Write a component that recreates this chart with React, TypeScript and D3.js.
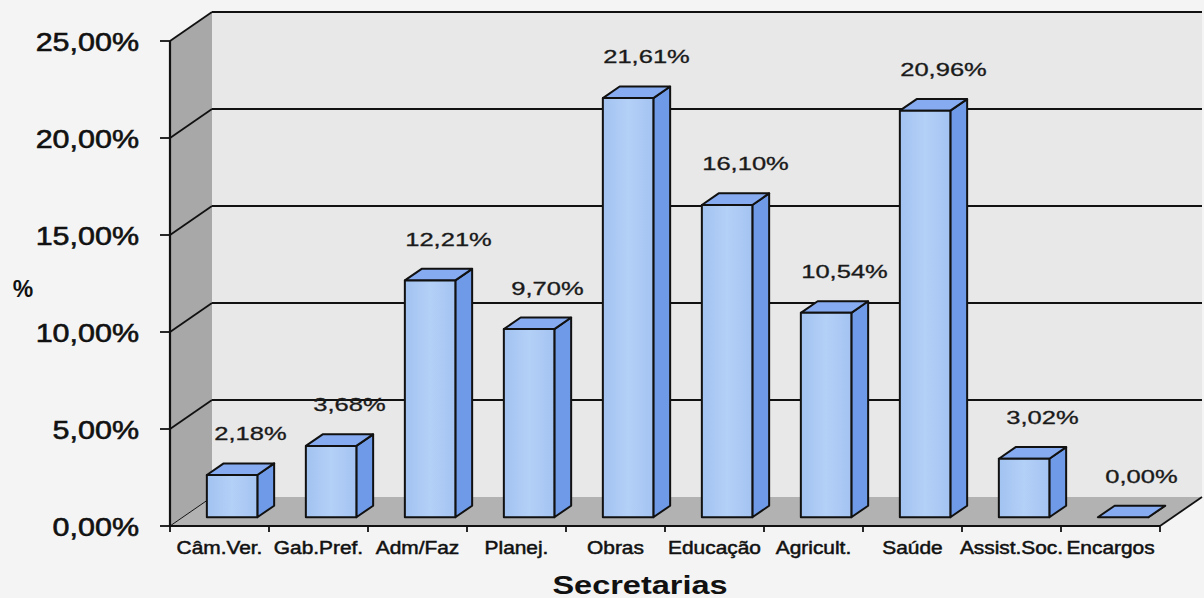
import React from "react";
import * as d3 from "d3";

const categories = ["Câm.Ver.", "Gab.Pref.", "Adm/Faz", "Planej.", "Obras", "Educação", "Agricult.", "Saúde", "Assist.Soc.", "Encargos"];
const values = [2.18, 3.68, 12.21, 9.70, 21.61, 16.10, 10.54, 20.96, 3.02, 0.00];
const yTicks = [0, 5, 10, 15, 20, 25];
const xTitle = "Secretarias";
const yTitle = "%";

const W = 1204, H = 598;
const X0 = 170, X1 = 1160, Y0 = 526, Y1 = 41;
const DX = 42, DY = -29;
const F0 = 0.3, F1 = 0.7;

const fmt = (v: number) => v.toFixed(2).replace(".", ",") + "%";
const FONT = "'Liberation Sans', Arial, sans-serif";

export default function App() {
  const x = d3.scaleBand<string>().domain(categories).range([X0, X1]).paddingInner(0.49).paddingOuter(0.245);
  const y = d3.scaleLinear().domain([0, 25]).range([Y0, Y1]);
  const bw = x.bandwidth();
  const step = x.step();
  const pts = (p: number[][]) => p.map((q) => q.join(",")).join(" ");
  const yBot = y(0);
  const yTop = y(25);

  return (
    <svg width={W} height={H} style={{ position: "absolute", left: 0, top: 0, background: "#f4f4f4" }}>
      <defs>
        <linearGradient id="front" x1="0" x2="1" y1="0" y2="0">
          <stop offset="0" stopColor="#a2c2f0" />
          <stop offset="0.5" stopColor="#b3d0f7" />
          <stop offset="1" stopColor="#a4c3f1" />
        </linearGradient>
      </defs>
      {/* back wall */}
      <polygon points={pts([[X0 + DX, yTop + DY], [X1 + DX, yTop + DY], [X1 + DX, yBot + DY], [X0 + DX, yBot + DY]])} fill="#e8e8e8" />
      {/* left wall */}
      <polygon points={pts([[X0, yTop], [X0 + DX, yTop + DY], [X0 + DX, yBot + DY], [X0, yBot]])} fill="#a8a8a8" />
      {/* floor */}
      <polygon points={pts([[X0, yBot], [X1, yBot], [X1 + DX, yBot + DY], [X0 + DX, yBot + DY]])} fill="#b2b2b2" />
      {/* gridlines */}
      {yTicks.map((t) => (
        <g key={t}>
          {t > 0 && <line x1={X0 + DX} x2={X1 + DX} y1={y(t) + DY} y2={y(t) + DY} stroke="#111" strokeWidth={2} />}
          <line x1={X0} x2={X0 + DX} y1={y(t)} y2={y(t) + DY} stroke="#111" strokeWidth={t === 0 ? 1 : 1.8} />
          <line x1={X0 - 10} x2={X0} y1={y(t)} y2={y(t)} stroke="#111" strokeWidth={1.8} />
          <text transform={`translate(${X0 - 31},${y(t) + 9.5}) scale(1.15,1)`} textAnchor="end" fontFamily={FONT} fontSize={26.5} fill="#111" stroke="#111" strokeWidth={0.6}>
            {fmt(t)}
          </text>
        </g>
      ))}
      {/* axes */}
      <line x1={X0} x2={X0} y1={yTop} y2={yBot} stroke="#111" strokeWidth={2.2} />
      <line x1={X0} x2={X1} y1={yBot} y2={yBot} stroke="#111" strokeWidth={2.2} />
      <line x1={X1} x2={X1 + DX} y1={yBot} y2={yBot + DY} stroke="#111" strokeWidth={1.8} />
      {d3.range(categories.length + 1).map((i) => (
        <line key={i} x1={X0 + i * step} x2={X0 + i * step} y1={yBot} y2={yBot + 6} stroke="#111" strokeWidth={1.8} />
      ))}
      {/* bars */}
      {categories.map((c, i) => {
        const v = values[i];
        const fx = (x(c) as number) + F0 * DX;
        const ft = y(v) + F0 * DY;
        const fb = yBot + F0 * DY;
        const ddx = (F1 - F0) * DX;
        const ddy = (F1 - F0) * DY;
        return (
          <g key={c} stroke="#111" strokeWidth={2} strokeLinejoin="round">
            <polygon points={pts([[fx + bw, ft], [fx + bw + ddx, ft + ddy], [fx + bw + ddx, fb + ddy], [fx + bw, fb]])} fill="#6f9ae8" />
            <polygon points={pts([[fx, ft], [fx + bw, ft], [fx + bw + ddx, ft + ddy], [fx + ddx, ft + ddy]])} fill="#86abf0" />
            {v > 0 && <rect x={fx} y={ft} width={bw} height={fb - ft} fill="url(#front)" />}
          </g>
        );
      })}
      {/* value labels */}
      {categories.map((c, i) => (
        <text
          key={c}
          transform={`translate(${(x(c) as number) + bw / 2 + 31},${y(values[i]) + F1 * DY - 23}) scale(1.42,1)`}
          textAnchor="middle"
          fontFamily={FONT}
          fontSize={18}
          fill="#1a1a1a"
          stroke="#1a1a1a"
          strokeWidth={0.3}
        >
          {fmt(values[i])}
        </text>
      ))}
      {/* category labels */}
      {categories.map((c) => (
        <text
          key={c}
          transform={`translate(${(x(c) as number) + bw / 2},${554}) scale(1.16,1)`}
          textAnchor="middle"
          fontFamily={FONT}
          fontSize={18}
          fill="#111"
          stroke="#111"
          strokeWidth={0.5}
        >
          {c}
        </text>
      ))}
      <text transform={`translate(640,594) scale(1.3,1)`} textAnchor="middle" fontFamily={FONT} fontSize={25} fontWeight="bold" fill="#111">
        {xTitle}
      </text>
      <text x={23} y={297} textAnchor="middle" fontFamily={FONT} fontSize={23} fontWeight="bold" fill="#111">
        {yTitle}
      </text>
    </svg>
  );
}
